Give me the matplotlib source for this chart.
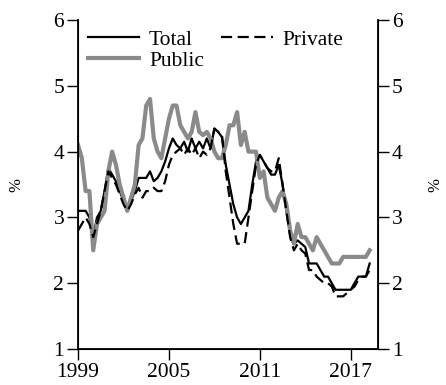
import matplotlib.pyplot as plt
import numpy as np

plt.rcParams['font.family'] = ['Liberation Serif', 'DejaVu Serif']

# quarterly observations, 1999Q1 .. 2018Q2
start_year = 1999
total = [3.1, 3.1, 3.1, 3.0, 2.7, 3.0, 3.1, 3.4, 3.75, 3.65, 3.55, 3.4, 3.25, 3.1, 3.25, 3.4,
         3.6, 3.6, 3.6, 3.7, 3.55, 3.6, 3.7, 3.85, 4.05, 4.2, 4.1, 4.05, 4.15, 4.0, 4.2, 4.05,
         4.15, 4.05, 4.2, 4.05, 4.35, 4.3, 4.22, 3.8, 3.5, 3.2, 3.0, 2.9, 3.0, 3.1, 3.5, 3.85,
         3.95, 3.85, 3.75, 3.65, 3.65, 3.8, 3.5, 3.1, 2.75, 2.6, 2.65, 2.6, 2.55, 2.3, 2.3, 2.3,
         2.2, 2.1, 2.1, 2.0, 1.9, 1.9, 1.9, 1.9, 1.9, 2.0, 2.1, 2.1, 2.1, 2.3]
private = [2.8, 2.9, 3.0, 2.9, 2.7, 2.9, 3.1, 3.4, 3.7, 3.6, 3.5, 3.35, 3.2, 3.1, 3.2, 3.35,
           3.45, 3.3, 3.4, 3.4, 3.45, 3.4, 3.4, 3.55, 3.8, 3.95, 4.0, 4.05, 3.95, 4.05, 3.95, 4.05,
           3.9, 4.0, 3.95, 4.05, 4.35, 4.3, 4.25, 3.7, 3.3, 2.9, 2.6, 2.6, 2.6, 3.0, 3.4, 3.8,
           3.95, 3.85, 3.75, 3.7, 3.7, 3.9, 3.5, 3.1, 2.7, 2.5, 2.6, 2.5, 2.45, 2.2, 2.2, 2.1,
           2.05, 2.0, 2.0, 1.95, 1.8, 1.8, 1.8, 1.85, 1.9, 1.95, 2.05, 2.1, 2.1, 2.2]
public = [4.1, 3.9, 3.4, 3.4, 2.5, 2.9, 3.0, 3.1, 3.7, 4.0, 3.8, 3.5, 3.3, 3.1, 3.3, 3.5,
          4.1, 4.2, 4.7, 4.8, 4.2, 4.0, 3.9, 4.2, 4.5, 4.7, 4.7, 4.4, 4.3, 4.2, 4.3, 4.6,
          4.3, 4.25, 4.3, 4.2, 4.0, 3.9, 3.9, 4.1, 4.4, 4.4, 4.6, 4.1, 4.3, 4.0, 4.0, 4.0,
          3.6, 3.7, 3.3, 3.2, 3.1, 3.3, 3.4, 3.2, 2.8, 2.6, 2.9, 2.7, 2.7, 2.6, 2.5, 2.7,
          2.6, 2.5, 2.4, 2.3, 2.3, 2.3, 2.4, 2.4, 2.4, 2.4, 2.4, 2.4, 2.4, 2.5]
xticks = [1999, 2005, 2011, 2017]

t = start_year + np.arange(len(total)) / 4
fs = 15.5

fig = plt.figure(figsize=(4.46, 3.85), dpi=100)
ax = fig.add_axes([0.175, 0.0935, 0.6725, 0.8545])

ax.plot(t, total, color='black', lw=1.6, label='Total')
ax.plot(t, public, color='#8a8a8a', lw=3.0, label='Public')
ax.plot(t, private, color='black', lw=1.6, ls=(0, (5, 2.5)), label='Private')

ax.set_xlim(1999, 2018.8)
ax.set_ylim(1, 6)
ax.set_xticks(xticks)
ax.set_yticks([1, 2, 3, 4, 5, 6])
ax.spines['top'].set_visible(False)
for s in ['left', 'right', 'bottom']:
    ax.spines[s].set_linewidth(1.3)
ax.tick_params(direction='out', length=8, width=1, labelsize=fs, pad=2)
ax.set_ylabel('%', fontsize=12)
ax.yaxis.set_label_coords(-0.18, 0.5)

ax2 = ax.twinx()
ax2.set_ylim(1, 6)
ax2.set_yticks([1, 2, 3, 4, 5, 6])
ax2.spines['top'].set_visible(False)
ax2.tick_params(direction='out', length=8, width=1, labelsize=fs, pad=2)
ax2.set_ylabel('%', fontsize=12, rotation=90)
ax2.yaxis.set_label_coords(1.165, 0.5)

ax.legend(ncol=2, loc='upper left', frameon=False, fontsize=fs,
          handlelength=2.4, columnspacing=0.8, labelspacing=0.05,
          borderaxespad=0.15, handletextpad=0.45, borderpad=0.3)

fig.savefig('out.png', dpi=100)
